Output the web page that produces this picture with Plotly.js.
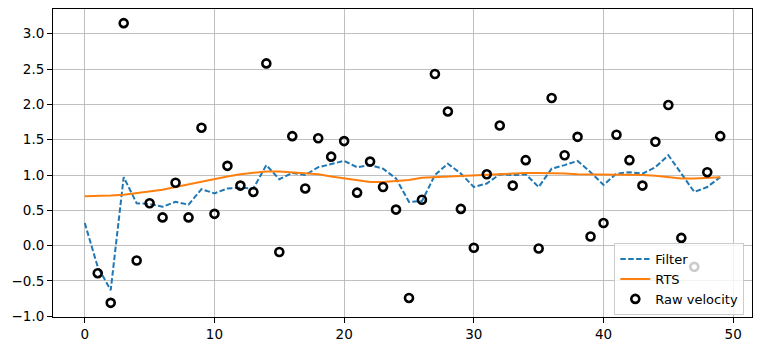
<!DOCTYPE html>
<html>
<head>
<meta charset="utf-8">
<script src="https://cdn.plot.ly/plotly-3.0.1.min.js"></script>
<style>html,body{margin:0;padding:0;background:#fff;}#chart{width:760px;height:351px;}</style>
</head>
<body>
<div id="chart"></div>
<script>
const filterX = [0,1,2,3,4,5,6,7,8,9,10,11,12,13,14,15,16,17,18,19,20,21,22,23,24,25,26,27,28,29,30,31,32,33,34,35,36,37,38,39,40,41,42,43,44,45,46,47,48,49];
const filterY = [0.32,-0.30,-0.63,0.97,0.60,0.59,0.55,0.62,0.58,0.80,0.74,0.81,0.82,0.81,1.14,0.94,1.03,1.00,1.11,1.16,1.20,1.11,1.14,1.09,0.95,0.62,0.63,1.00,1.16,1.02,0.83,0.88,1.01,1.00,1.01,0.83,1.09,1.14,1.20,1.04,0.86,1.02,1.04,1.02,1.11,1.28,1.02,0.76,0.83,0.97];
const rtsY = [0.70,0.70,0.71,0.72,0.74,0.76,0.79,0.83,0.87,0.91,0.95,0.98,1.01,1.03,1.05,1.05,1.04,1.03,1.01,0.98,0.95,0.92,0.90,0.90,0.91,0.93,0.96,0.97,0.98,0.98,1.00,1.01,1.02,1.02,1.03,1.03,1.03,1.02,1.01,1.01,1.01,1.01,1.01,1.00,0.99,0.97,0.95,0.95,0.96,0.97];
const rawX = [1,2,3,4,5,6,7,8,9,10,11,12,13,14,15,16,17,18,19,20,21,22,23,24,25,26,27,28,29,30,31,32,33,34,35,36,37,38,39,40,41,42,43,44,45,46,47,48,49];
const rawY = [-0.39,-0.81,3.15,-0.21,0.60,0.40,0.89,0.40,1.67,0.45,1.13,0.85,0.76,2.58,-0.09,1.55,0.81,1.52,1.26,1.48,0.75,1.19,0.83,0.51,-0.74,0.65,2.43,1.90,0.52,-0.03,1.01,1.70,0.85,1.21,-0.04,2.09,1.28,1.54,0.13,0.32,1.57,1.21,0.85,1.47,1.99,0.11,-0.30,1.04,1.55];
const xTicks = [0,10,20,30,40,50];
const yTicks = [-1.0,-0.5,0.0,0.5,1.0,1.5,2.0,2.5,3.0];

const traces = [
  {x: filterX, y: filterY, name: 'Filter', mode: 'lines', type: 'scatter',
   line: {color: '#1f77b4', width: 2, dash: '5.5px,2.4px'}},
  {x: filterX, y: rtsY, name: 'RTS', mode: 'lines', type: 'scatter',
   line: {color: '#ff7f0e', width: 2}},
  {x: rawX, y: rawY, name: 'Raw velocity', mode: 'markers', type: 'scatter',
   marker: {symbol: 'circle-open', size: 8, color: '#000', line: {color: '#000', width: 2.6}}}
];

const axisCommon = {
  showline: true, mirror: true, linecolor: '#000', linewidth: 1,
  showgrid: true, gridcolor: '#b0b0b0', gridwidth: 0.8,
  zeroline: false, ticks: 'outside', ticklen: 5, tickwidth: 1, tickcolor: '#000',
  tickfont: {family: 'DejaVu Sans', size: 13.5, color: '#000'}
};

const layout = {
  width: 760, height: 351,
  margin: {l: 53, r: 8, t: 9, b: 34},
  paper_bgcolor: '#fff', plot_bgcolor: '#fff',
  showlegend: true,
  xaxis: Object.assign({}, axisCommon, {range: [-2.45, 51.45], tickvals: xTicks, ticktext: xTicks.map(String)}),
  yaxis: Object.assign({}, axisCommon, {range: [-1.01, 3.35], tickvals: yTicks, ticktext: yTicks.map(v => (v < 0 ? '\u2212' : '') + Math.abs(v).toFixed(1))}),
  legend: {x: 0.989, y: 0.006, xanchor: 'right', yanchor: 'bottom',
    bgcolor: 'rgba(255,255,255,0.8)', bordercolor: '#cccccc', borderwidth: 1,
    font: {family: 'DejaVu Sans', size: 13, color: '#000'}, tracegroupgap: 0, itemwidth: 30}
};

Plotly.newPlot('chart', traces, layout, {staticPlot: true, displayModeBar: false});
</script>
</body>
</html>
